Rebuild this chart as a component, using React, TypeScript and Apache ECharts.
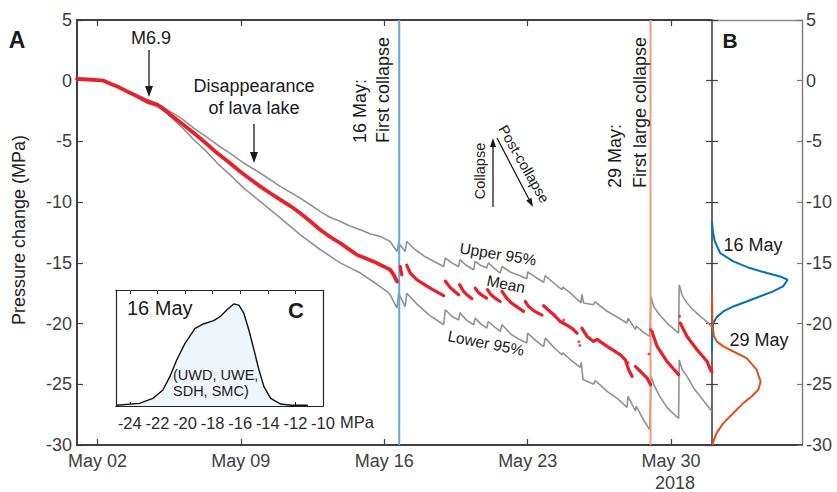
import React, { useEffect, useRef } from "react";
import * as echarts from "echarts";

// ---------- DATA ----------
// x = days since May 1 00:00 (2018), y = pressure change (MPa)
const xTickDays = [1, 8, 15, 22, 29];
const xTickLabels = ["May 02", "May 09", "May 16", "May 23", "May 30"];
const collapseDays = [15.73, 28.0]; // 16 May first collapse, 29 May first large collapse

const meanBefore: number[][] = [
  [0, 0.15], [0.5, 0.1], [1.0, 0.05], [1.3, 0.0], [1.63, -0.25], [2.0, -0.5], [2.44, -0.88],
  [2.9, -1.25], [3.42, -1.7], [3.91, -1.98], [4.2, -2.3], [4.56, -2.8], [5.1, -3.5], [5.7, -4.31],
  [6.3, -5.15], [6.84, -5.96], [7.4, -6.7], [7.96, -7.47], [8.45, -8.1], [8.94, -8.7], [9.42, -9.25],
  [9.92, -9.8], [10.4, -10.3], [10.89, -10.9], [11.4, -11.6], [11.87, -12.27], [12.35, -12.85],
  [12.85, -13.37], [13.25, -13.85], [13.66, -14.33], [14.05, -14.6], [14.47, -14.88], [14.8, -15.15],
  [15.13, -15.43], [15.29, -15.57], [15.45, -15.95], [15.62, -16.53],
];

const meanSegments: number[][][] = [
  [[15.78, -15.3], [15.86, -16.0]],
  [[16.1, -15.2], [16.27, -15.84], [16.6, -16.4], [17.24, -17.08], [17.9, -17.7]],
  [[17.98, -16.5], [18.2, -17.0], [18.4, -17.3], [18.63, -17.63]],
  [[18.68, -16.8], [18.85, -17.3], [19.05, -17.65], [19.28, -17.95]],
  [[19.44, -17.08], [19.6, -17.45], [19.8, -17.7], [20.0, -17.9]],
  [[20.04, -17.2], [20.2, -17.6], [20.45, -17.95], [20.66, -18.18]],
  [[20.75, -17.35], [20.95, -17.85], [21.2, -18.3], [21.5, -18.65], [21.8, -19.0]],
  [[21.88, -18.18], [22.05, -18.6], [22.35, -19.0], [22.7, -19.3]],
  [[22.78, -18.53], [23.27, -19.27], [23.6, -19.83], [24.16, -20.37], [24.41, -20.78]],
  [[24.65, -20.37], [24.9, -21.06], [25.22, -21.47], [25.39, -21.3], [25.88, -21.88], [26.53, -22.57], [26.77, -22.98], [26.93, -23.8], [27.1, -24.35]],
  [[27.26, -23.53], [27.59, -24.08], [27.83, -24.49], [28.0, -25.04]],
  [[28.07, -20.65], [28.32, -21.88], [28.8, -23.12], [29.37, -24.2]],
  [[29.45, -19.96], [29.78, -21.06], [30.27, -22.16], [30.76, -23.12], [30.92, -23.8], [31.0, -24.0]],
];

const meanDots: number[][] = [
  [24.5, -21.5], [24.55, -21.8], [23.76, -19.7], [27.92, -22.5], [28.0, -20.5], [29.42, -19.4], [26.9, -23.2],
];

const upper95: number[][] = [
  [0, 0.15], [1.3, 0.0], [2.0, -0.45], [2.9, -1.15], [3.42, -1.55], [3.91, -1.85], [4.4, -2.39],
  [5.1, -3.1], [5.7, -3.9], [6.3, -4.6], [6.84, -5.27], [7.5, -6.0], [8.14, -6.78], [8.94, -7.6],
  [9.92, -8.7], [10.89, -9.66], [11.87, -10.76], [12.3, -11.2], [12.85, -11.59], [13.3, -11.95],
  [13.83, -12.27], [14.3, -12.6], [14.8, -12.82], [15.29, -13.24], [15.62, -14.06], [15.7, -13.37],
  [16.02, -14.06], [16.1, -13.24], [16.5, -13.9], [17.0, -14.5], [17.5, -14.95], [17.9, -15.3],
  [17.98, -14.6], [18.3, -15.0], [18.63, -15.3], [18.7, -14.74], [19.0, -15.2], [19.36, -15.57],
  [19.44, -14.88], [19.7, -15.2], [20.0, -15.43], [20.08, -15.0], [20.4, -15.5], [20.66, -15.84],
  [20.75, -15.3], [21.2, -15.8], [21.6, -16.05], [21.96, -16.3], [22.0, -15.75], [22.4, -16.2],
  [22.78, -16.6], [22.86, -16.05], [23.3, -16.7], [23.67, -17.2], [23.72, -17.0], [24.1, -17.5],
  [24.6, -18.3], [24.65, -17.6], [24.73, -18.3], [25.22, -18.45], [25.28, -18.2], [25.8, -18.9],
  [26.4, -19.5], [26.85, -19.96], [26.9, -19.55], [27.26, -20.5], [27.3, -20.2], [27.65, -20.7],
  [27.96, -21.06], [28.02, -17.77], [28.15, -18.6], [28.45, -19.3], [28.8, -19.96], [29.1, -20.4],
  [29.37, -20.78], [29.4, -16.8], [29.55, -17.7], [29.78, -18.3], [30.1, -18.9], [30.43, -19.4],
  [30.75, -19.85], [31.0, -20.3],
];

const lower95: number[][] = [
  [0, 0.15], [1.3, 0.0], [2.0, -0.55], [2.9, -1.35], [3.42, -1.85], [3.91, -2.1], [4.4, -2.7],
  [5.1, -3.8], [5.7, -4.86], [6.3, -5.8], [6.84, -6.78], [7.5, -7.8], [8.14, -8.84], [8.94, -9.94],
  [9.92, -11.3], [10.89, -12.68], [11.87, -13.9], [12.85, -15.0], [13.83, -15.84], [14.5, -16.6],
  [15.13, -17.35], [15.29, -17.63], [15.62, -18.72], [15.7, -17.5], [16.02, -18.6], [16.1, -17.5],
  [16.6, -18.4], [17.2, -19.3], [17.9, -20.1], [17.98, -18.86], [18.3, -19.4], [18.63, -19.7],
  [18.7, -19.1], [19.0, -19.7], [19.36, -20.1], [19.44, -19.55], [19.7, -20.0], [20.0, -20.37],
  [20.08, -19.83], [20.4, -20.3], [20.66, -20.65], [20.75, -20.1], [21.2, -20.9], [21.6, -21.3],
  [21.96, -21.6], [22.0, -20.78], [22.4, -21.4], [22.78, -21.9], [22.86, -21.2], [23.3, -22.0],
  [23.67, -22.57], [23.72, -22.4], [24.1, -23.0], [24.57, -23.6], [24.62, -23.2], [24.7, -24.6],
  [25.22, -25.0], [25.3, -24.7], [25.9, -25.6], [26.4, -26.2], [26.85, -26.9], [26.9, -26.0],
  [27.26, -27.2], [27.3, -26.8], [27.65, -27.9], [27.96, -28.75], [28.02, -24.3], [28.15, -25.0],
  [28.45, -26.0], [28.8, -26.9], [29.1, -27.4], [29.37, -27.8], [29.4, -23.0], [29.55, -23.8],
  [29.78, -24.35], [30.1, -25.3], [30.43, -26.0], [30.75, -26.7], [31.0, -27.24],
];

// Panel B: [relative density, MPa]
const density16May: number[][] = [
  [0, -11.6], [0.01, -12.4], [0.03, -13.2], [0.09, -14.19], [0.237, -14.88], [0.42, -15.43],
  [0.61, -15.84], [0.756, -16.12], [0.84, -16.39], [0.79, -16.94], [0.68, -17.35], [0.53, -17.77],
  [0.385, -18.18], [0.237, -18.59], [0.126, -19.0], [0.052, -19.47], [0.015, -19.96], [0.004, -20.5],
  [0, -22.3],
];
const density29May: number[][] = [
  [0, -17.3], [0.004, -20.0], [0.02, -21.0], [0.052, -21.47], [0.126, -21.88], [0.237, -22.3],
  [0.385, -22.85], [0.496, -23.8], [0.54, -24.77], [0.515, -25.45], [0.44, -26.0], [0.348, -26.55],
  [0.274, -27.1], [0.2, -27.65], [0.126, -28.2], [0.052, -29.0], [0.008, -29.85], [0, -30],
];

// Panel C: [MPa, relative density]
const insetDensity: number[][] = [
  [-25, 0.006], [-23.3, 0.023], [-22.33, 0.066], [-21.6, 0.138], [-21.1, 0.253], [-20.6, 0.397],
  [-20.0, 0.54], [-19.27, 0.67], [-18.66, 0.707], [-17.93, 0.736], [-17.45, 0.77], [-16.96, 0.83],
  [-16.47, 0.88], [-16.1, 0.87], [-15.74, 0.8], [-15.37, 0.655], [-15.0, 0.483], [-14.64, 0.31],
  [-14.28, 0.167], [-13.79, 0.066], [-13.06, 0.017], [-12.3, 0.006], [-11.1, 0.006],
];
const insetTicks = [-24, -22, -20, -18, -16, -14, -12, -10];

// ---------- STYLE ----------
const FONT = "'Liberation Sans', Arial, Helvetica, sans-serif";
const AX = "#404040";
const TXT = "#1a1a1a";
const RED = "#e8202a";
const GRAY = "#929292";

function arrow(x1: number, y1: number, x2: number, y2: number, w = 1.3, head = 11, half = 4) {
  const dx = x2 - x1, dy = y2 - y1;
  const L = Math.hypot(dx, dy);
  const ux = dx / L, uy = dy / L;
  const bx = x2 - ux * head, by = y2 - uy * head;
  const px = -uy * half, py = ux * half;
  return [
    { type: "line", z: 100, shape: { x1, y1, x2: bx, y2: by }, style: { stroke: TXT, lineWidth: w } },
    { type: "polygon", z: 100, shape: { points: [[x2, y2], [bx + px, by + py], [bx - px, by - py]] }, style: { fill: TXT } },
  ];
}

function txt(text: string, x: number, y: number, o: any = {}) {
  return {
    type: "text",
    z: 100,
    x,
    y,
    rotation: o.rot || 0,
    style: {
      text,
      fontSize: o.size || 18,
      fontFamily: FONT,
      fontWeight: o.bold ? "bold" : "normal",
      fill: o.color || TXT,
      align: o.align || "center",
      verticalAlign: "middle",
    },
  };
}

function buildOption() {
  const hidden = { show: false };
  const series: any[] = [
    { type: "line", xAxisIndex: 0, yAxisIndex: 0, data: upper95, symbol: "none", lineStyle: { color: GRAY, width: 1.6 }, z: 2 },
    { type: "line", xAxisIndex: 0, yAxisIndex: 0, data: lower95, symbol: "none", lineStyle: { color: GRAY, width: 1.6 }, z: 2 },
    ...collapseDays.map((d, i) => ({
      type: "line", xAxisIndex: 0, yAxisIndex: 0, data: [[d, -30], [d, 5]], symbol: "none",
      lineStyle: { color: i === 0 ? "#62a8dc" : "#ee9a7c", width: 2 }, z: 3,
    })),
    { type: "line", xAxisIndex: 0, yAxisIndex: 0, data: meanBefore, symbol: "none", lineStyle: { color: RED, width: 3.8, join: "round", cap: "round" }, z: 4 },
    ...meanSegments.map((seg) => ({
      type: "line", xAxisIndex: 0, yAxisIndex: 0, data: seg, symbol: "none",
      lineStyle: { color: RED, width: 3.2, join: "round", cap: "round" }, z: 4,
    })),
    { type: "scatter", xAxisIndex: 0, yAxisIndex: 0, data: meanDots, symbolSize: 3, itemStyle: { color: RED }, z: 4 },
    { type: "line", xAxisIndex: 2, yAxisIndex: 2, data: density16May, symbol: "none", lineStyle: { color: "#0072BD", width: 2 } },
    { type: "line", xAxisIndex: 2, yAxisIndex: 2, data: density29May, symbol: "none", lineStyle: { color: "#D95319", width: 2 } },
    {
      type: "line", xAxisIndex: 4, yAxisIndex: 4, data: insetDensity, symbol: "none",
      lineStyle: { color: "#111", width: 1.4 }, areaStyle: { color: "#eef6fc", opacity: 1 },
    },
  ];

  const xLabelFmt = (v: number) => {
    const i = xTickDays.indexOf(Math.round(v));
    return i >= 0 ? xTickLabels[i] : "";
  };

  const baseAxis = { splitLine: hidden, axisPointer: hidden };

  return {
    animation: false,
    backgroundColor: "#ffffff",
    grid: [
      { left: 77, top: 20, width: 635, height: 425, outerBoundsMode: "none" },
      { left: 712, top: 20, width: 90, height: 425, outerBoundsMode: "none" },
      { left: 116, top: 290, width: 207, height: 116, outerBoundsMode: "none" },
    ],
    xAxis: [
      {
        ...baseAxis, gridIndex: 0, type: "value", position: "bottom", min: 0, max: 31,
        axisLine: { onZero: false, lineStyle: { color: AX, width: 2 } },
        axisTick: { inside: true, length: 6, customValues: xTickDays, lineStyle: { color: AX, width: 1.2 } },
        axisLabel: { customValues: xTickDays, formatter: xLabelFmt, fontSize: 18, color: AX, margin: 7, fontFamily: FONT },
      },
      {
        ...baseAxis, gridIndex: 0, type: "value", position: "top", min: 0, max: 31,
        axisLine: { onZero: false, lineStyle: { color: AX, width: 2 } },
        axisTick: { inside: true, length: 6, customValues: xTickDays, lineStyle: { color: AX, width: 1.2 } },
        axisLabel: hidden,
      },
      {
        ...baseAxis, gridIndex: 1, type: "value", position: "bottom", min: 0, max: 1,
        axisLine: { onZero: false, lineStyle: { color: AX, width: 2 } },
        axisTick: hidden, axisLabel: hidden,
      },
      {
        ...baseAxis, gridIndex: 1, type: "value", position: "top", min: 0, max: 1,
        axisLine: { onZero: false, lineStyle: { color: "#8a8a8a", width: 1.4 } },
        axisTick: hidden, axisLabel: hidden,
      },
      {
        ...baseAxis, gridIndex: 2, type: "value", position: "bottom", min: -25, max: -10,
        axisLine: { onZero: false, lineStyle: { color: "#222", width: 1.2 } },
        axisTick: { inside: true, length: 4, customValues: insetTicks, lineStyle: { color: "#222", width: 1 } },
        axisLabel: { customValues: insetTicks, fontSize: 16.5, color: "#2a2a2a", margin: 8, fontFamily: FONT, formatter: (v: number) => String(v) },
      },
      {
        ...baseAxis, gridIndex: 2, type: "value", position: "top", min: -25, max: -10,
        axisLine: { onZero: false, lineStyle: { color: "#222", width: 1.2 } },
        axisTick: { inside: true, length: 4, customValues: insetTicks, lineStyle: { color: "#222", width: 1 } },
        axisLabel: hidden,
      },
    ],
    yAxis: [
      {
        ...baseAxis, gridIndex: 0, type: "value", position: "left", min: -30, max: 5, interval: 5,
        axisLine: { onZero: false, lineStyle: { color: AX, width: 2 } },
        axisTick: { inside: true, length: 6, lineStyle: { color: AX, width: 1.2 } },
        axisLabel: { fontSize: 18, color: AX, margin: 5, fontFamily: FONT, showMinLabel: true, showMaxLabel: true },
      },
      {
        ...baseAxis, gridIndex: 0, type: "value", position: "right", min: -30, max: 5, interval: 5,
        axisLine: { onZero: false, lineStyle: { color: AX, width: 1.6 } },
        axisTick: { inside: true, length: 6, lineStyle: { color: AX, width: 1.2 } },
        axisLabel: hidden,
      },
      {
        ...baseAxis, gridIndex: 1, type: "value", position: "left", min: -30, max: 5, interval: 5,
        axisLine: { show: false, onZero: false },
        axisTick: { inside: true, length: 6, lineStyle: { color: AX, width: 1.2 } },
        axisLabel: hidden,
      },
      {
        ...baseAxis, gridIndex: 1, type: "value", position: "right", min: -30, max: 5, interval: 5,
        axisLine: { onZero: false, lineStyle: { color: "#7a7a7a", width: 1.4 } },
        axisTick: { inside: true, length: 5, lineStyle: { color: "#7a7a7a", width: 1.2 } },
        axisLabel: { fontSize: 18, color: AX, margin: 4, fontFamily: FONT, showMinLabel: true, showMaxLabel: true },
      },
      {
        ...baseAxis, gridIndex: 2, type: "value", position: "left", min: 0, max: 1,
        axisLine: { onZero: false, lineStyle: { color: "#222", width: 1.2 } },
        axisTick: hidden, axisLabel: hidden,
      },
      {
        ...baseAxis, gridIndex: 2, type: "value", position: "right", min: 0, max: 1,
        axisLine: { onZero: false, lineStyle: { color: "#222", width: 1.2 } },
        axisTick: hidden, axisLabel: hidden,
      },
    ],
    series,
    graphic: [
      txt("A", 17, 40, { size: 23, bold: true }),
      txt("B", 730, 40, { size: 21, bold: true }),
      txt("Pressure change (MPa)", 19, 230, { rot: Math.PI / 2, color: "#222" }),
      txt("M6.9", 151, 38),
      ...arrow(149, 50, 149, 97),
      txt("Disappearance", 254, 86),
      txt("of lava lake", 254, 108),
      ...arrow(254, 124, 254, 163),
      txt("16 May:", 360, 143, { rot: Math.PI / 2, align: "left" }),
      txt("First collapse", 383, 143, { rot: Math.PI / 2, align: "left" }),
      txt("29 May:", 615, 188, { rot: Math.PI / 2, align: "left" }),
      txt("First large collapse", 640, 188, { rot: Math.PI / 2, align: "left" }),
      txt("Collapse", 480, 171, { rot: Math.PI / 2, size: 14.5 }),
      ...arrow(493, 207, 493, 138, 1.3, 9, 3),
      ...arrow(497, 138, 533, 207, 1.3, 9, 3),
      txt("Post-collapse", 524, 164, { rot: -1.05, size: 14.5 }),
      txt("Upper 95%", 498, 254, { rot: -0.16, size: 15.5 }),
      txt("Mean", 506, 284, { rot: -0.2, size: 15.5 }),
      txt("Lower 95%", 486, 343, { rot: -0.19, size: 15.5 }),
      txt("2018", 675, 483, { color: AX }),
      txt("16 May", 753, 245),
      txt("29 May", 759, 340),
      txt("16 May", 127, 308, { size: 20, align: "left" }),
      txt("C", 296, 310, { size: 22, bold: true }),
      txt("(UWD, UWE,", 173, 375, { size: 14.5, align: "left" }),
      txt("SDH, SMC)", 173, 391, { size: 14.5, align: "left" }),
      txt("MPa", 340, 422, { size: 16.5, align: "left", color: "#2a2a2a" }),
    ],
  };
}

export default function App() {
  const ref = useRef<HTMLDivElement>(null);
  useEffect(() => {
    if (!ref.current) return;
    const chart = echarts.init(ref.current, null, { renderer: "svg" });
    chart.setOption(buildOption() as any);
    return () => chart.dispose();
  }, []);
  return (
    <div
      ref={ref}
      style={{ position: "absolute", left: 0, top: 0, width: 837, height: 492, background: "#fff" }}
    />
  );
}
